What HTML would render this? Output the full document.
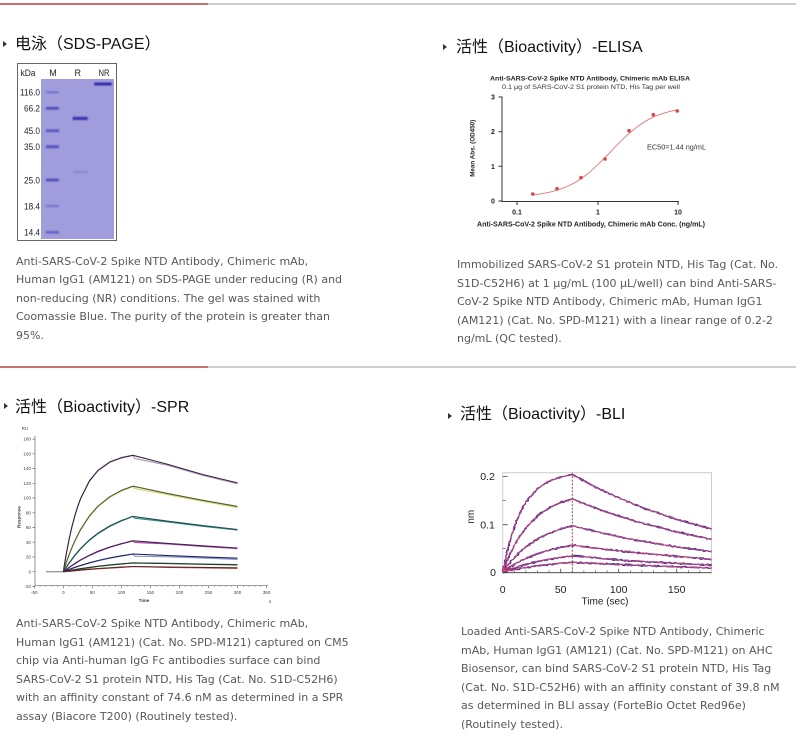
<!DOCTYPE html>
<html><head><meta charset="utf-8">
<style>
html,body{margin:0;padding:0;background:#fff;}
body{width:800px;height:753px;position:relative;overflow:hidden;}
.hd{position:absolute;font-family:"Liberation Sans","Noto Sans CJK SC",sans-serif;font-size:16px;line-height:20px;color:#111;white-space:nowrap;}
.tri{position:absolute;width:0;height:0;border-top:3px solid transparent;border-bottom:3px solid transparent;border-left:4px solid #333;}
.cap{position:absolute;font-family:"DejaVu Sans","Liberation Sans",sans-serif;font-size:11px;line-height:18.4px;color:#585858;white-space:nowrap;}
.sep{position:absolute;height:2px;}
svg{position:absolute;left:0;top:0;}
</style></head><body>

<div class="sep" style="left:0;top:3px;width:208px;background:#c46f70;"></div>
<div class="sep" style="left:208px;top:3px;width:588px;background:#cfcfcf;"></div>
<div class="sep" style="left:0;top:366px;width:208px;background:#c46f70;"></div>
<div class="sep" style="left:208px;top:366px;width:588px;background:#cfcfcf;"></div>

<div class="tri" style="left:3px;top:41px;"></div>
<div class="hd" style="left:15px;top:35px;">电泳（SDS-PAGE）</div>
<div class="tri" style="left:443px;top:44px;"></div>
<div class="hd" style="left:456px;top:38px;">活性（Bioactivity）-ELISA</div>
<div class="tri" style="left:4px;top:403px;"></div>
<div class="hd" style="left:15px;top:398px;">活性（Bioactivity）-SPR</div>
<div class="tri" style="left:448px;top:413px;"></div>
<div class="hd" style="left:460px;top:405px;">活性（Bioactivity）-BLI</div>

<div class="cap" style="left:16px;top:253px;">Anti-SARS-CoV-2 Spike NTD Antibody, Chimeric mAb,<br>Human IgG1 (AM121) on SDS-PAGE under reducing (R) and<br>non-reducing (NR) conditions. The gel was stained with<br>Coomassie Blue. The purity of the protein is greater than<br>95%.</div>

<div class="cap" style="left:457px;top:256px;line-height:18.6px;">Immobilized SARS-CoV-2 S1 protein NTD, His Tag (Cat. No.<br>S1D-C52H6) at 1 μg/mL (100 μL/well) can bind Anti-SARS-<br>CoV-2 Spike NTD Antibody, Chimeric mAb, Human IgG1<br>(AM121) (Cat. No. SPD-M121) with a linear range of 0.2-2<br>ng/mL (QC tested).</div>

<div class="cap" style="left:16px;top:615px;line-height:18.5px;">Anti-SARS-CoV-2 Spike NTD Antibody, Chimeric mAb,<br>Human IgG1 (AM121) (Cat. No. SPD-M121) captured on CM5<br>chip via Anti-human IgG Fc antibodies surface can bind<br>SARS-CoV-2 S1 protein NTD, His Tag (Cat. No. S1D-C52H6)<br>with an affinity constant of 74.6 nM as determined in a SPR<br>assay (Biacore T200) (Routinely tested).</div>

<div class="cap" style="left:461px;top:623px;line-height:18.55px;">Loaded Anti-SARS-CoV-2 Spike NTD Antibody, Chimeric<br>mAb, Human IgG1 (AM121) (Cat. No. SPD-M121) on AHC<br>Biosensor, can bind SARS-CoV-2 S1 protein NTD, His Tag<br>(Cat. No. S1D-C52H6) with an affinity constant of 39.8 nM<br>as determined in BLI assay (ForteBio Octet Red96e)<br>(Routinely tested).</div>

<svg width="800" height="753" viewBox="0 0 800 753" font-family="Liberation Sans, sans-serif">
<defs>
<filter id="bl" x="-20%" y="-50%" width="140%" height="200%"><feGaussianBlur stdDeviation="0.7"/></filter>
<filter id="noise" x="-5%" y="-10%" width="110%" height="120%">
<feTurbulence type="fractalNoise" baseFrequency="0.35" numOctaves="1" seed="3"/>
<feDisplacementMap in="SourceGraphic" scale="2.2" xChannelSelector="R" yChannelSelector="G"/>
</filter>
</defs>

<!-- ===== GEL ===== -->
<rect x="17.5" y="63.5" width="99" height="177" fill="#fff" stroke="#666" stroke-width="1"/>
<rect x="41" y="79" width="73" height="160" fill="#a19cdb"/>
<g font-size="9" fill="#222" text-anchor="middle">
<text x="28" y="76" textLength="15" lengthAdjust="spacingAndGlyphs">kDa</text>
<text x="53" y="76">M</text>
<text x="77.7" y="76">R</text>
<text x="104" y="76" textLength="11" lengthAdjust="spacingAndGlyphs">NR</text>
</g>
<g font-size="9" fill="#222" text-anchor="end">
<text x="40" y="95.5" textLength="20" lengthAdjust="spacingAndGlyphs">116.0</text>
<text x="40" y="111.5" textLength="16" lengthAdjust="spacingAndGlyphs">66.2</text>
<text x="40" y="134" textLength="16" lengthAdjust="spacingAndGlyphs">45.0</text>
<text x="40" y="150" textLength="16" lengthAdjust="spacingAndGlyphs">35.0</text>
<text x="40" y="183.3" textLength="16" lengthAdjust="spacingAndGlyphs">25.0</text>
<text x="40" y="209.3" textLength="16" lengthAdjust="spacingAndGlyphs">18.4</text>
<text x="40" y="235.6" textLength="16" lengthAdjust="spacingAndGlyphs">14.4</text>
</g>
<g filter="url(#bl)">
<rect x="46" y="91.3" width="13" height="2" fill="#7470c8"/>
<rect x="46" y="107" width="13" height="2.6" fill="#4f48bd"/>
<rect x="46" y="129.3" width="13" height="2.8" fill="#5c56c4"/>
<rect x="46" y="145.3" width="13" height="2.8" fill="#5550c2"/>
<rect x="46" y="178.7" width="13" height="2.6" fill="#4f48bd"/>
<rect x="46" y="204.8" width="13" height="2.4" fill="#7a76cc"/>
<rect x="46" y="231" width="13" height="2.6" fill="#6560c6"/>
<rect x="72.7" y="116.8" width="15" height="3.2" fill="#3a30b2"/>
<rect x="94.3" y="82.6" width="17.4" height="2.8" fill="#2c22aa"/>
<rect x="73" y="171" width="15" height="2.4" fill="#8e89d2"/>
</g>

<!-- ===== ELISA ===== -->
<g fill="#222">
<text x="490" y="80.5" font-size="6.5" font-weight="bold" textLength="200" lengthAdjust="spacingAndGlyphs">Anti-SARS-CoV-2 Spike NTD Antibody, Chimeric mAb ELISA</text>
<text x="502" y="89" font-size="6.3" fill="#333" textLength="178" lengthAdjust="spacingAndGlyphs">0.1 μg of SARS-CoV-2 S1 protein NTD, His Tag per well</text>
<text x="477" y="226.5" font-size="7" font-weight="bold" textLength="228" lengthAdjust="spacingAndGlyphs">Anti-SARS-CoV-2 Spike NTD Antibody, Chimeric mAb Conc. (ng/mL)</text>
<text x="474.5" y="148.3" font-size="6.5" font-weight="bold" text-anchor="middle" transform="rotate(-90 474.5 148.3)" textLength="57" lengthAdjust="spacingAndGlyphs">Mean Abs. (OD450)</text>
<text x="647" y="149.5" font-size="7" fill="#333" textLength="59" lengthAdjust="spacingAndGlyphs">EC50=1.44 ng/mL</text>
</g>
<g stroke="#333" stroke-width="1" fill="none">
<path d="M502,96.5 V201.5 H679"/>
<path d="M498.5,97 H502 M498.5,131.7 H502 M498.5,166.3 H502 M498.5,201 H502"/>
<path d="M517,201 V205 M598,201 V205 M678,201 V205"/>
</g>
<g font-size="7" font-weight="bold" fill="#222" text-anchor="middle">
<text x="493" y="99.5">3</text><text x="493" y="134.2">2</text><text x="493" y="168.8">1</text><text x="493" y="203.5">0</text>
<text x="517" y="214.5">0.1</text><text x="598" y="214.5">1</text><text x="678" y="214.5">10</text>
</g>
<polyline fill="none" stroke="#e07878" stroke-width="0.9" points="532.8,195 541.65,193.8 549.7,192.2 557.75,190.1 565.8,187.1 573.85,183.2 581.9,178.2 589.95,171.9 598,164.6 606.05,156.5 614.1,148.1 622.15,139.9 630.2,132.4 638.25,126 646.3,120.7 654.35,116.6 662.4,113.6 670.45,111.3 677.7,109.7"/>
<g fill="#d84848">
<circle cx="532.7" cy="194" r="1.8"/><circle cx="557" cy="188.7" r="1.8"/><circle cx="581" cy="177.7" r="1.8"/><circle cx="605" cy="159" r="1.8"/><circle cx="629" cy="130.7" r="1.8"/><circle cx="653.3" cy="114.7" r="1.8"/><circle cx="677.3" cy="111" r="1.8"/>
</g>

<!-- ===== SPR ===== -->
<g stroke="#666" stroke-width="0.7" fill="none">
<path d="M35,436 V585.7 H268"/>
<path d="M32.5,439.1H35 M32.5,453.8H35 M32.5,468.6H35 M32.5,483.3H35 M32.5,498H35 M32.5,512.8H35 M32.5,527.5H35 M32.5,542.2H35 M32.5,557H35 M32.5,571.7H35 M32.5,586.4H35"/>
<path d="M34.3,585.7v2.5 M63.3,585.7v2.5 M92.3,585.7v2.5 M121.4,585.7v2.5 M150.4,585.7v2.5 M179.5,585.7v2.5 M208.5,585.7v2.5 M237.5,585.7v2.5 M266.6,585.7v2.5"/>
<path stroke-width="0.5" d="M40.1,585.7v1.3 M45.9,585.7v1.3 M51.7,585.7v1.3 M57.5,585.7v1.3 M69.1,585.7v1.3 M74.9,585.7v1.3 M80.7,585.7v1.3 M86.5,585.7v1.3 M98.1,585.7v1.3 M103.9,585.7v1.3 M109.8,585.7v1.3 M115.6,585.7v1.3 M127.2,585.7v1.3 M133,585.7v1.3 M138.8,585.7v1.3 M144.6,585.7v1.3 M156.2,585.7v1.3 M162,585.7v1.3 M167.9,585.7v1.3 M173.7,585.7v1.3 M185.3,585.7v1.3 M191.1,585.7v1.3 M196.9,585.7v1.3 M202.7,585.7v1.3 M214.3,585.7v1.3 M220.1,585.7v1.3 M225.9,585.7v1.3 M231.7,585.7v1.3 M243.3,585.7v1.3 M249.1,585.7v1.3 M254.9,585.7v1.3 M260.8,585.7v1.3"/>
</g>
<g font-size="4.6" fill="#444" text-anchor="end">
<text x="31" y="440.7">180</text><text x="31" y="455.4">160</text><text x="31" y="470.2">140</text><text x="31" y="484.9">120</text><text x="31" y="499.6">100</text><text x="31" y="514.4">80</text><text x="31" y="529.1">60</text><text x="31" y="543.8">40</text><text x="31" y="558.6">20</text><text x="31" y="573.3">0</text><text x="31" y="588">-20</text>
</g>
<g font-size="4.6" fill="#444" text-anchor="middle">
<text x="34.3" y="594">-50</text><text x="63.3" y="594">0</text><text x="92.3" y="594">50</text><text x="121.4" y="594">100</text><text x="150.4" y="594">150</text><text x="179.5" y="594">200</text><text x="208.5" y="594">250</text><text x="237.5" y="594">300</text><text x="266.6" y="594">350</text>
<text x="144" y="602" font-weight="bold">Time</text>
<text x="270" y="603">s</text>
<text x="25" y="430">RU</text>
<text x="20.5" y="517" font-weight="bold" transform="rotate(-90 20.5 517)">Response</text>
</g>
<polyline fill="none" stroke="#777" stroke-width="1" points="45.9,571.7 63.3,571.7"/>
<g fill="none" stroke-width="1.1" stroke-linejoin="round">
<!-- data lines -->
<polyline stroke="#a898b8" points="63.3,571.7 66.2,554.6 69.1,539.6 72,526.8 74.9,516 77.8,506.7 80.7,498.7 89.4,481.4 98.1,470.7 109.8,462.4 121.4,458.1 133,455.3 134.6,458.4 167.9,465.3 202.7,475.3 237.5,483.8"/>
<polyline stroke="#d8d468" points="63.3,571.7 66.2,563.3 69.1,555.3 72,547.9 74.9,541.3 80.7,529.9 89.4,516.5 98.1,506.6 109.8,497.4 121.4,491.1 133,486.2 134.6,488.6 167.9,494.7 202.7,501.3 237.5,507.6"/>
<polyline stroke="#2f8c7c" points="63.3,571.7 69.1,563.4 74.9,555.6 80.7,548.9 89.4,540.4 98.1,533.6 109.8,526.4 121.4,521 133,516.4 134.6,518.2 167.9,521.9 202.7,526.3 237.5,530.1"/>
<polyline stroke="#b040a8" points="63.3,571.7 69.1,567.7 74.9,563.8 80.7,560.2 89.4,555.6 98.1,551.7 109.8,547.4 121.4,544 133,540.8 134.6,542.4 167.9,544 202.7,546.4 237.5,548.6"/>
<polyline stroke="#8898c8" points="63.3,571.7 69.1,569.7 74.9,567.6 80.7,565.7 89.4,563.1 98.1,560.8 109.8,558.2 121.4,556.1 133,554 134.6,556.2 167.9,556.8 202.7,558.1 237.5,559.4"/>
<polyline stroke="#1e8a44" points="63.3,571.7 69.1,570.9 74.9,569.9 80.7,568.9 89.4,567.7 98.1,566.5 109.8,565.2 121.4,564.1 133,562.9 167.9,563.3 202.7,564 237.5,564.6"/>
<polyline stroke="#c83030" points="63.3,571.7 69.1,571.4 74.9,570.8 80.7,570.2 89.4,569.5 98.1,568.8 109.8,568.1 121.4,567.4 133,566.5 167.9,567.4 202.7,567.8 237.5,568.3"/>
<!-- fit lines -->
<polyline stroke="#3a2442" points="63.3,571.7 66.2,554.1 69.1,539.1 72,526.3 74.9,515.5 77.8,506.2 80.7,498.2 89.4,480.9 98.1,470.2 109.8,461.9 121.4,457.6 133,455.3 167.9,464.4 202.7,474.5 237.5,482.9"/>
<polyline stroke="#4e5a30" points="63.3,571.7 66.2,562.8 69.1,554.7 72,547.3 74.9,540.7 80.7,529.3 89.4,515.9 98.1,506 109.8,496.7 121.4,490.4 133,486.2 167.9,493.6 202.7,500.3 237.5,506.4"/>
<polyline stroke="#1f4c52" points="63.3,571.7 69.1,562.9 74.9,555.1 80.7,548.4 89.4,539.9 98.1,533.1 109.8,525.9 121.4,520.5 133,516.4 167.9,521.2 202.7,525.6 237.5,529.5"/>
<polyline stroke="#422050" points="63.3,571.7 69.1,567.3 74.9,563.4 80.7,559.8 89.4,555.2 98.1,551.3 109.8,547 121.4,543.6 133,540.8 167.9,543.4 202.7,545.8 237.5,548"/>
<polyline stroke="#1a2266" points="63.3,571.7 69.1,569.4 74.9,567.3 80.7,565.4 89.4,562.8 98.1,560.5 109.8,557.9 121.4,555.8 133,554 167.9,555.6 202.7,556.9 237.5,558.2"/>
<polyline stroke="#2c3a2c" points="63.3,571.7 69.1,570.6 74.9,569.6 80.7,568.6 89.4,567.4 98.1,566.2 109.8,564.9 121.4,563.8 133,562.9 167.9,563.6 202.7,564.3 237.5,564.9"/>
<polyline stroke="#5a2a2a" points="63.3,571.7 69.1,571.1 74.9,570.5 80.7,569.9 89.4,569.2 98.1,568.5 109.8,567.8 121.4,567.1 133,566.5 167.9,567 202.7,567.4 237.5,567.8"/>
</g>

<!-- ===== BLI ===== -->
<rect x="502.7" y="472.7" width="208.8" height="100" fill="none" stroke="#cdcdcd" stroke-width="1"/>
<g stroke="#444" stroke-width="0.8" fill="none">
<path d="M502.7,572.7 H711.5"/>
<path d="M502.7,476.6 h5 M502.7,524.7 h5 M502.7,572 h5"/>
<path stroke-width="0.6" d="M502.7,500.7 h3 M502.7,548.4 h3"/>
<path d="M502.7,572.7 v-4 M560.7,572.7 v-4 M618.7,572.7 v-4 M676.7,572.7 v-4"/>
<path stroke-width="0.6" d="M514.3,572.7v-2.5 M525.9,572.7v-2.5 M537.5,572.7v-2.5 M549.1,572.7v-2.5 M572.3,572.7v-2.5 M583.9,572.7v-2.5 M595.5,572.7v-2.5 M607.1,572.7v-2.5 M630.3,572.7v-2.5 M641.9,572.7v-2.5 M653.5,572.7v-2.5 M665.1,572.7v-2.5 M688.3,572.7v-2.5 M699.9,572.7v-2.5"/>
</g>
<g font-size="10.5" fill="#222" text-anchor="middle">
<text x="487.5" y="480">0.2</text><text x="487.5" y="528.5">0.1</text><text x="493" y="576">0</text>
<text x="502.7" y="593">0</text><text x="560.7" y="593">50</text><text x="618.7" y="593">100</text><text x="676.7" y="593">150</text>
<text x="605" y="604.5" font-size="10" textLength="47" lengthAdjust="spacingAndGlyphs">Time (sec)</text>
<text x="474" y="516.7" font-size="10" transform="rotate(-90 474 516.7)">nm</text>
</g>
<g fill="none" stroke="#352a9a" stroke-width="1.7" stroke-linejoin="round" filter="url(#noise)">
<polyline points="502.7,572 508.5,546 514.3,526.9 520.1,512.6 525.9,502.1 537.5,488.5 549.1,481 560.7,476.9 572.3,474.6 595.5,487.1 618.7,497.9 641.9,507.4 676.7,519.4 711.5,529.1"/>
<polyline points="502.7,572 508.5,557.4 514.3,545.5 520.1,535.8 525.9,527.7 537.5,515.8 549.1,507.9 560.7,502.5 572.3,499 595.5,508.1 618.7,516.1 641.9,523.1 676.7,532 711.5,539.3"/>
<polyline points="502.7,572 508.5,564.3 514.3,557.6 520.1,551.9 525.9,547 537.5,539.1 549.1,533.3 560.7,529 572.3,525.7 595.5,531.6 618.7,536.7 641.9,541.2 676.7,546.9 711.5,551.5"/>
<polyline points="502.7,572 508.5,568 514.3,564.4 520.1,561.2 525.9,558.4 537.5,553.8 549.1,550.2 560.7,547.4 572.3,545.2 595.5,548.2 618.7,550.9 641.9,553.3 676.7,556.3 711.5,559.5"/>
<polyline points="502.7,572 508.5,569.8 514.3,567.8 520.1,566.1 525.9,564.4 537.5,561.6 549.1,559.3 560.7,557.5 572.3,555.9 595.5,557.9 618.7,560 641.9,561.5 676.7,563.3 711.5,565"/>
<polyline points="502.7,572 508.5,570.7 514.3,569.6 520.1,568.5 525.9,567.5 537.5,565.9 549.1,564.5 560.7,563.2 572.3,562.3 595.5,563.3 618.7,564.5 641.9,565.5 676.7,566.8 711.5,568"/>
</g>
<g fill="none" stroke="#e8406a" stroke-width="0.8" stroke-linejoin="round">
<polyline points="502.7,572 508.5,546 514.3,526.9 520.1,512.6 525.9,502.1 537.5,488.5 549.1,481 560.7,476.9 572.3,474.6 595.5,487.1 618.7,497.9 641.9,507.4 676.7,519.4 711.5,529.1"/>
<polyline points="502.7,572 508.5,557.4 514.3,545.5 520.1,535.8 525.9,527.7 537.5,515.8 549.1,507.9 560.7,502.5 572.3,499 595.5,508.1 618.7,516.1 641.9,523.1 676.7,532 711.5,539.3"/>
<polyline points="502.7,572 508.5,564.3 514.3,557.6 520.1,551.9 525.9,547 537.5,539.1 549.1,533.3 560.7,529 572.3,525.7 595.5,531.6 618.7,536.7 641.9,541.2 676.7,546.9 711.5,551.5"/>
<polyline points="502.7,572 508.5,568 514.3,564.4 520.1,561.2 525.9,558.4 537.5,553.8 549.1,550.2 560.7,547.4 572.3,545.2 595.5,548.2 618.7,550.9 641.9,553.3 676.7,556.3 711.5,559.5"/>
<polyline points="502.7,572 508.5,569.8 514.3,567.8 520.1,566.1 525.9,564.4 537.5,561.6 549.1,559.3 560.7,557.5 572.3,555.9 595.5,557.9 618.7,560 641.9,561.5 676.7,563.3 711.5,565"/>
<polyline points="502.7,572 508.5,570.7 514.3,569.6 520.1,568.5 525.9,567.5 537.5,565.9 549.1,564.5 560.7,563.2 572.3,562.3 595.5,563.3 618.7,564.5 641.9,565.5 676.7,566.8 711.5,568"/>
</g>
<line x1="572.3" y1="472.7" x2="572.3" y2="572.7" stroke="#8a3a2a" stroke-width="0.9" stroke-dasharray="2,1.5"/>
</svg>
</body></html>
